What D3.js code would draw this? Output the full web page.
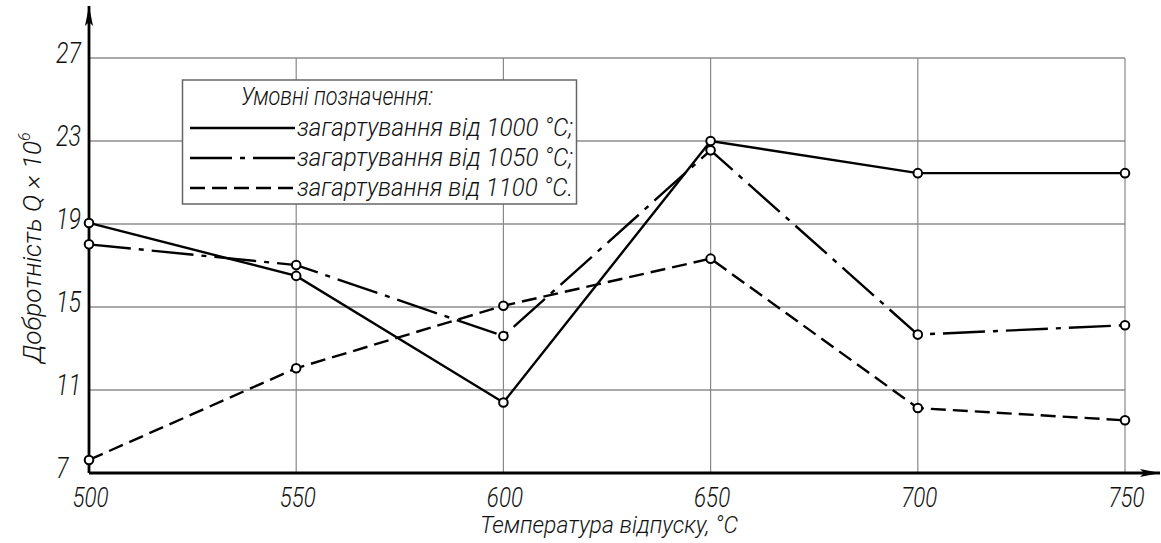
<!DOCTYPE html>
<html lang="uk">
<head>
  <meta charset="utf-8">
  <title>Добротність</title>
  <script src="https://d3js.org/d3.v7.min.js"></script>
  <style>
    body { margin: 0; background: #fff; }
    text { font-family: Roboto, "DejaVu Sans", sans-serif; font-style: italic; font-weight: 300; fill: #111; }
  </style>
</head>
<body>
  <svg width="1161" height="543"></svg>
  <script>
    const temps = [500, 550, 600, 650, 700, 750];
    const q1000 = [19.05, 16.5, 10.4, 23.0, 21.45, 21.45];
    const q1050 = [18.02, 17.02, 13.6, 22.55, 13.67, 14.12];
    const q1100 = [7.63, 12.05, 15.06, 17.33, 10.13, 9.54];
    const yTicks = [7, 11, 15, 19, 23, 27];
    const seriesNames = ["загартування від 1000 °С;", "загартування від 1050 °С;", "загартування від 1100 °С."];
    const dashes = [null, "42,8,5,8", "15,7"];

    const svg = d3.select("svg");

    const x = d3.scaleLinear().domain([500, 750]).range([89, 1125]);
    const y = d3.scaleLinear().domain([7, 27]).range([473, 58]);

    // narrow a text: move its x/y into a transform and squeeze horizontally
    function narrow(sel, sx) {
      sel.each(function () {
        const t = d3.select(this);
        const tx = +t.attr("x") || 0, ty = +t.attr("y") || 0;
        t.attr("x", 0).attr("y", 0)
          .attr("transform", "translate(" + tx + "," + ty + ") scale(" + sx + ",1)");
      });
    }

    // grid
    svg.append("g")
      .selectAll("line")
      .data(yTicks.slice(1))
      .enter()
      .append("line")
      .attr("x1", x(500)).attr("x2", x(750))
      .attr("y1", d => y(d)).attr("y2", d => y(d))
      .attr("stroke", "#555").attr("stroke-width", 1.2);

    svg.append("g")
      .selectAll("line")
      .data(temps.slice(1))
      .enter()
      .append("line")
      .attr("x1", d => x(d)).attr("x2", d => x(d))
      .attr("y1", y(27)).attr("y2", y(7))
      .attr("stroke", "#888").attr("stroke-width", 1.2);

    // axes with arrows
    svg.append("defs").append("marker")
      .attr("id", "arrow")
      .attr("viewBox", "0 0 20 8")
      .attr("refX", 20).attr("refY", 4)
      .attr("markerWidth", 20).attr("markerHeight", 8)
      .attr("markerUnits", "userSpaceOnUse")
      .attr("orient", "auto")
      .append("path")
      .attr("d", "M0,0 L20,4 L0,8 L4,4 Z")
      .attr("fill", "#000");

    svg.append("line")
      .attr("x1", x(500)).attr("y1", y(7)).attr("x2", x(500)).attr("y2", 6)
      .attr("stroke", "#000").attr("stroke-width", 2.8)
      .attr("marker-end", "url(#arrow)");
    svg.append("line")
      .attr("x1", x(500)).attr("y1", y(7)).attr("x2", 1160).attr("y2", y(7))
      .attr("stroke", "#000").attr("stroke-width", 2.8)
      .attr("marker-end", "url(#arrow)");

    // tick labels via d3 axes
    const yAxis = svg.append("g")
      .attr("transform", "translate(" + x(500) + ",0)")
      .call(d3.axisLeft(y).tickValues(yTicks).tickSize(0).tickFormat(d3.format("d")));
    yAxis.select(".domain").remove();
    yAxis.selectAll("text")
      .attr("x", -33).attr("dy", null).attr("y", 4)
      .attr("text-anchor", "start")
      .style("font-size", "29px");
    narrow(yAxis.selectAll("text"), 0.8);

    const xAxis = svg.append("g")
      .attr("transform", "translate(0," + y(7) + ")")
      .call(d3.axisBottom(x).tickValues(temps).tickSize(0).tickFormat(d3.format("d")));
    xAxis.select(".domain").remove();
    xAxis.selectAll("text")
      .attr("y", 34).attr("dy", null)
      .attr("x", 1)
      .style("font-size", "28px");
    narrow(xAxis.selectAll("text"), 0.8);
    svg.selectAll("g[font-family]").attr("font-family", null).attr("font-size", null);
    svg.selectAll(".tick text").attr("fill", "#111");

    // axis titles
    svg.append("text")
      .attr("x", 480).attr("y", 533)
      .attr("textLength", 258).attr("lengthAdjust", "spacingAndGlyphs")
      .style("font-size", "24px")
      .text("Температура відпуску, °С");

    const yt = svg.append("text")
      .attr("transform", "translate(41,363) rotate(-90)")
      .style("font-size", "25px");
    yt.append("tspan").attr("textLength", 222).attr("lengthAdjust", "spacingAndGlyphs")
      .text("Добротність Q × 10");
    yt.append("tspan").attr("dy", -11).style("font-size", "16px").text("6");

    // series
    const series = [q1000, q1050, q1100];
    const line = d3.line().x((d, i) => x(temps[i])).y(d => y(d));

    series.forEach((s, k) => {
      svg.append("path")
        .datum(s)
        .attr("d", line)
        .attr("fill", "none")
        .attr("stroke", "#000")
        .attr("stroke-width", 2.4)
        .attr("stroke-dasharray", dashes[k]);
    });
    series.forEach(s => {
      svg.append("g")
        .selectAll("circle")
        .data(s)
        .enter()
        .append("circle")
        .attr("cx", (d, i) => x(temps[i]))
        .attr("cy", d => y(d))
        .attr("r", 4.3)
        .attr("fill", "#fff")
        .attr("stroke", "#000")
        .attr("stroke-width", 2);
    });

    // legend
    const lg = svg.append("g");
    lg.append("rect")
      .attr("x", 182.5).attr("y", 80).attr("width", 394).attr("height", 124)
      .attr("fill", "#fff").attr("stroke", "#666").attr("stroke-width", 1.5);
    lg.append("text")
      .attr("x", 241).attr("y", 105)
      .attr("textLength", 192).attr("lengthAdjust", "spacingAndGlyphs")
      .style("font-size", "25px")
      .text("Умовні позначення:");
    seriesNames.forEach((name, k) => {
      const ly = 128 + k * 30;
      lg.append("line")
        .attr("x1", 190).attr("x2", 295).attr("y1", ly).attr("y2", ly)
        .attr("stroke", "#000").attr("stroke-width", 2.4)
        .attr("stroke-dasharray", dashes[k]);
      lg.append("text")
        .attr("x", 297).attr("y", ly + 8)
        .attr("textLength", 276).attr("lengthAdjust", "spacingAndGlyphs")
        .style("font-size", "26px")
        .text(name);
    });
  </script>
</body>
</html>
